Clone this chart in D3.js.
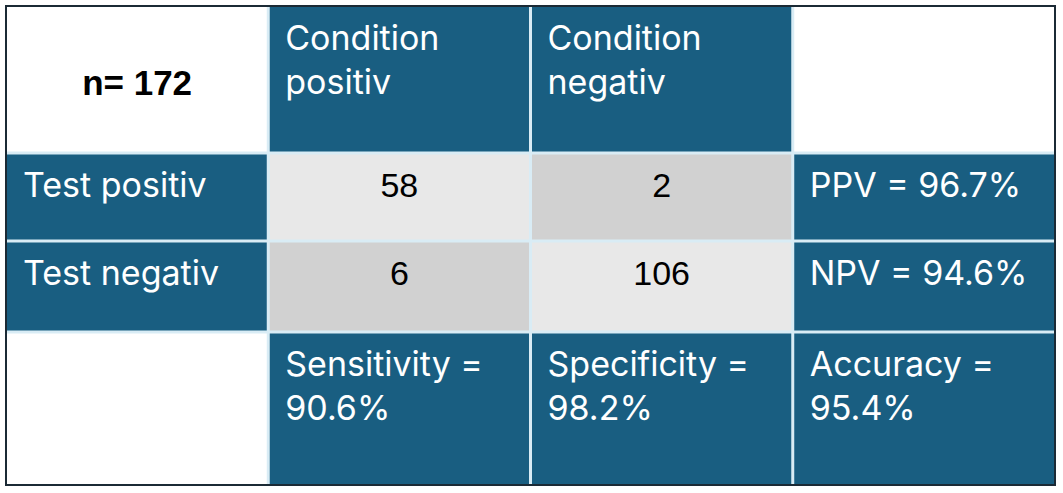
<!DOCTYPE html>
<html>
<head>
<meta charset="utf-8">
<script src="https://cdn.jsdelivr.net/npm/d3@7"></script>
<style>
  html, body { margin: 0; padding: 0; background: #fff; }
</style>
</head>
<body>
<div id="chart-container"></div>
<script>
// Table contents
var corner = "n= 172";
var colHeaders = [["Condition", "positiv"], ["Condition", "negativ"]];
var rowHeaders = ["Test positiv", "Test negativ"];
var counts = [[58, 2], [6, 106]];
var rowMetrics = ["PPV = 96.7%", "NPV = 94.6%"];
var colMetrics = [["Sensitivity =", "90.6%"], ["Specificity =", "98.2%"], ["Accuracy =", "95.4%"]];

// Layout
var width = 1063, height = 493;
var tableLeft = 6, tableRight = 1055, tableTop = 6, tableBottom = 485;
var rowEdges = [tableTop, 153, 241, 332, tableBottom];
var darkBlue = "#195e81";
var lightGray = "#e8e8e8";
var midGray = "#d1d1d1";
var sepColor = "#d9ecf5";
var whiteFont = "Inter, 'Noto Sans', sans-serif";
var numFont = "'Liberation Sans', Arial, sans-serif";

var svg = d3.select("#chart-container")
    .append("svg")
    .attr("width", width)
    .attr("height", height);

var xScale = d3.scaleBand()
    .domain([0, 1, 2, 3])
    .range([tableLeft, tableRight]);

var yScale = d3.scaleOrdinal()
    .domain([0, 1, 2, 3, 4])
    .range(rowEdges);

function cellH(r) { return yScale(r + 1) - yScale(r); }

// Build the cell list
var cells = [];
cells.push({ r: 0, c: 0, fill: "#fff" });
colHeaders.forEach(function(h, i) { cells.push({ r: 0, c: i + 1, fill: darkBlue, lines: h }); });
cells.push({ r: 0, c: 3, fill: "#fff" });
rowHeaders.forEach(function(h, i) {
    cells.push({ r: i + 1, c: 0, fill: darkBlue, lines: [h] });
    counts[i].forEach(function(v, j) {
        cells.push({ r: i + 1, c: j + 1, fill: i === j ? lightGray : midGray, num: v });
    });
    cells.push({ r: i + 1, c: 3, fill: darkBlue, lines: [rowMetrics[i]] });
});
cells.push({ r: 3, c: 0, fill: "#fff" });
colMetrics.forEach(function(m, i) { cells.push({ r: 3, c: i + 1, fill: darkBlue, lines: m }); });

// Separator background
svg.append("rect")
    .attr("x", tableLeft)
    .attr("y", tableTop)
    .attr("width", tableRight - tableLeft)
    .attr("height", tableBottom - tableTop)
    .attr("fill", sepColor);

var g = svg.selectAll("g.cell")
    .data(cells)
    .enter()
    .append("g")
    .attr("class", "cell");

var gap = 1.5;
g.append("rect")
    .attr("x", d => xScale(d.c) + (d.c > 0 ? gap : 0))
    .attr("y", d => yScale(d.r) + (d.r > 0 ? gap : 0))
    .attr("width", d => xScale.bandwidth() - (d.c > 0 ? gap : 0) - (d.c < 3 ? gap : 0))
    .attr("height", d => cellH(d.r) - (d.r > 0 ? gap : 0) - (d.r < 3 ? gap : 0))
    .attr("fill", d => d.fill);

// White label text, top-left aligned
g.filter(d => d.lines)
    .each(function(d) {
        var t = d3.select(this);
        d.lines.forEach(function(line, k) {
            t.append("text")
                .attr("x", xScale(d.c) + 17)
                .attr("y", yScale(d.r) + (d.r === 0 ? 44 : 44) + k * 44)
                .attr("fill", "#fff")
                .style("font-family", whiteFont)
                .style("font-size", "34px")
                .text(line);
        });
    });

// Count numbers
g.filter(d => d.num !== undefined)
    .append("text")
    .attr("x", d => xScale(d.c) + xScale.bandwidth() / 2)
    .attr("y", d => yScale(d.r) + 44)
    .attr("text-anchor", "middle")
    .attr("fill", "#000")
    .style("font-family", numFont)
    .style("font-size", "34px")
    .text(d => d.num);

// Corner label
svg.append("text")
    .attr("x", xScale(0) + xScale.bandwidth() / 2)
    .attr("y", 95)
    .attr("text-anchor", "middle")
    .attr("fill", "#000")
    .style("font-family", numFont)
    .style("font-weight", "bold")
    .style("font-size", "35px")
    .text(corner);

// Outer border
svg.append("rect")
    .attr("x", tableLeft)
    .attr("y", tableTop)
    .attr("width", tableRight - tableLeft)
    .attr("height", tableBottom - tableTop)
    .attr("fill", "none")
    .attr("stroke", "#1b2a35")
    .attr("stroke-width", 2);
</script>
</body>
</html>
